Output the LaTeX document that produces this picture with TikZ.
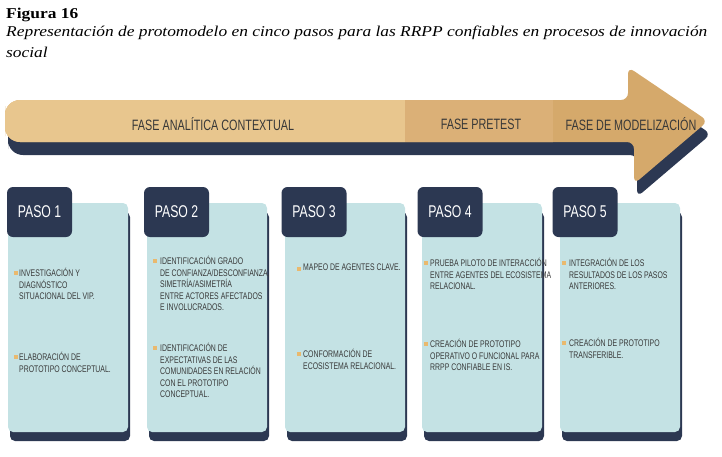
\documentclass[tikz,border=0pt]{standalone}
\usepackage{fontspec}
\setmainfont[FakeStretch=1.16]{Liberation Serif}
\newfontfamily\narrowfont[FakeStretch=0.72]{Liberation Sans}
\usetikzlibrary{shadows}

\definecolor{navy}{HTML}{2C3852}
\definecolor{cardblue}{HTML}{C4E2E4}
\definecolor{tanlight}{HTML}{E8C68E}
\definecolor{tanmid}{HTML}{DBB077}
\definecolor{tandark}{HTML}{D5A96B}
\definecolor{bulletc}{HTML}{E9B96E}
\definecolor{inkgray}{HTML}{383838}

% outline of the phase arrow
\newcommand{\phasearrow}{[rounded corners=15pt] (5,121) |- (300,100)
  [rounded corners=7pt] -- (628,100) -- (628,67) -- (708,121) -- (634,184)
  -- (634,142) [rounded corners=15pt] -- (300,142) -| (5,121) -- cycle}

\begin{document}
\begin{tikzpicture}[x=1pt,y=-1pt,
  phase label/.style={font=\narrowfont\fontsize{15}{15}\selectfont,text=inkgray,inner sep=0},
  paso box/.style={rectangle,rounded corners=6pt,fill=navy,text=white,
    minimum width=65pt,minimum height=50pt,inner sep=0,
    font=\narrowfont\fontsize{17}{17}\selectfont},
  card/.style={rectangle,rounded corners=5pt,fill=cardblue,
    minimum width=120pt,minimum height=229pt,inner sep=0,
    drop shadow={shadow xshift=2pt,shadow yshift=-9pt,fill=navy,opacity=1}},
  item text/.style={anchor=north west,inner sep=0,align=left,text=inkgray,
    font=\narrowfont\fontsize{9.6}{11.6}\selectfont},
  bullet/.style={rectangle,fill=bulletc,minimum size=4pt,inner sep=0}]
  \useasboundingbox (0,0) rectangle (722,456);

  % title and caption
  \node[anchor=base west,inner sep=0,font=\fontsize{15}{15}\selectfont\bfseries] (title) at (6,18) {Figura 16};
  \node[anchor=base west,inner sep=0,font=\fontsize{15}{15}\selectfont\itshape] (caption) at (6,36)
    {Representación de protomodelo en cinco pasos para las RRPP confiables en procesos de innovación};
  \node[anchor=base west,inner sep=0,font=\fontsize{15}{15}\selectfont\itshape] (captionb) at (6,57) {social};

  % phase arrow
  \fill[navy,shift={(3,13)}] \phasearrow;
  \fill[tandark] \phasearrow;
  \begin{scope}
    \clip \phasearrow;
    \fill[tanlight] (0,90) rectangle (405,150);
    \fill[tanmid] (405,90) rectangle (553,150);
  \end{scope}
  \node[phase label] (fase1) at (213,124) {FASE ANALÍTICA CONTEXTUAL};
  \node[phase label] (fase2) at (481,124) {FASE PRETEST};
  \node[phase label] (fase3) at (631,124) {FASE DE MODELIZACIÓN};

  % cards
  \node[card] (card1) at (68,317.5) {};
  \node[card] (card2) at (207,317.5) {};
  \node[card] (card3) at (345,317.5) {};
  \node[card] (card4) at (482,317.5) {};
  \node[card] (card5) at (620,317.5) {};

  \node[paso box] (paso1) at (39.5,212) {PASO 1};
  \node[paso box] (paso2) at (176.5,212) {PASO 2};
  \node[paso box] (paso3) at (314,212) {PASO 3};
  \node[paso box] (paso4) at (450,212) {PASO 4};
  \node[paso box] (paso5) at (585,212) {PASO 5};

  % paso 1
  \node[bullet] (b1a) at (16,273) {};
  \node[item text] (t1a) at (19,268) {INVESTIGACIÓN Y\\DIAGNÓSTICO\\SITUACIONAL DEL VIP.};
  \node[bullet] (b1b) at (16,357) {};
  \node[item text] (t1b) at (19,352) {ELABORACIÓN DE\\PROTOTIPO CONCEPTUAL.};

  % paso 2
  \node[bullet] (b2a) at (155,261) {};
  \node[item text] (t2a) at (160,256) {IDENTIFICACIÓN GRADO\\DE CONFIANZA/DESCONFIANZA,\\SIMETRÍA/ASIMETRÍA\\ENTRE ACTORES AFECTADOS\\E INVOLUCRADOS.};
  \node[bullet] (b2b) at (155,348) {};
  \node[item text] (t2b) at (160,343) {IDENTIFICACIÓN DE\\EXPECTATIVAS DE LAS\\COMUNIDADES EN RELACIÓN\\CON EL PROTOTIPO\\CONCEPTUAL.};

  % paso 3
  \node[bullet] (b3a) at (299,269) {};
  \node[item text] (t3a) at (303,264) {MAPEO DE AGENTES CLAVE.};
  \node[bullet] (b3b) at (299,354) {};
  \node[item text] (t3b) at (303,349) {CONFORMACIÓN DE\\ECOSISTEMA RELACIONAL.};

  % paso 4
  \node[bullet] (b4a) at (426,263) {};
  \node[item text] (t4a) at (430,258) {PRUEBA PILOTO DE INTERACCIÓN\\ENTRE AGENTES DEL ECOSISTEMA\\RELACIONAL.};
  \node[bullet] (b4b) at (426,344) {};
  \node[item text] (t4b) at (430,339) {CREACIÓN DE PROTOTIPO\\OPERATIVO O FUNCIONAL PARA\\RRPP CONFIABLE EN IS.};

  % paso 5
  \node[bullet] (b5a) at (564,263) {};
  \node[item text] (t5a) at (569,258) {INTEGRACIÓN DE LOS\\RESULTADOS DE LOS PASOS\\ANTERIORES.};
  \node[bullet] (b5b) at (564,343) {};
  \node[item text] (t5b) at (569,338) {CREACIÓN DE PROTOTIPO\\TRANSFERIBLE.};
\end{tikzpicture}
\end{document}
